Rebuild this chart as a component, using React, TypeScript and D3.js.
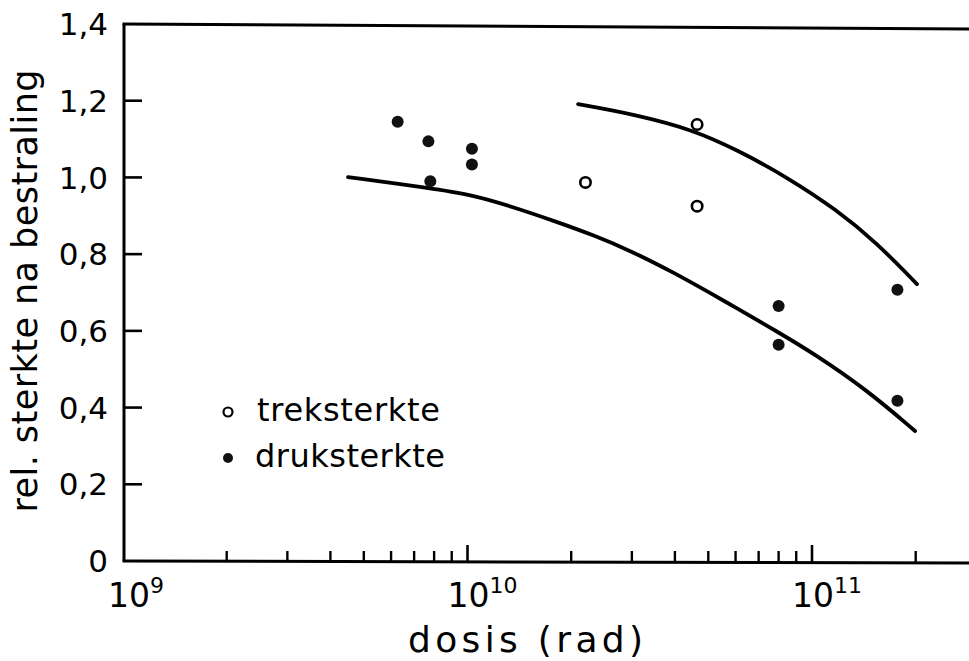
import React from "react";
import * as d3 from "d3";

const W = 969;
const H = 661;

// tick values
const yTicks = [0, 0.2, 0.4, 0.6, 0.8, 1.0, 1.2, 1.4];
const yTickLabels = ["0", "0,2", "0,4", "0,6", "0,8", "1,0", "1,2", "1,4"];
const xMajor = [1e9, 1e10, 1e11];
const xMajorExp = ["9", "10", "11"];
const xMinor = [2e9, 3e9, 4e9, 5e9, 6e9, 7e9, 8e9, 9e9, 2e10, 3e10, 4e10, 5e10, 6e10, 7e10, 8e10, 9e10, 2e11];

// data: treksterkte (open), druksterkte (filled)
const trekDose = [2.2e10, 4.64e10, 4.64e10];
const trekVal = [0.987, 1.138, 0.925];
const drukDose = [6.27e9, 7.7e9, 7.8e9, 1.03e10, 1.03e10, 8.0e10, 8.0e10, 1.77e11, 1.77e11];
const drukVal = [1.145, 1.094, 0.99, 1.075, 1.034, 0.665, 0.564, 0.707, 0.418];

// fitted curves
const lowerDose = [4.5e9, 7.78e9, 1.037e10, 1.356e10, 1.819e10, 2.314e10, 3.022e10, 3.95e10, 5.515e10, 8.07e10, 1.007e11, 1.444e11, 1.991e11];
const lowerVal = [1.001, 0.972, 0.954, 0.923, 0.884, 0.85, 0.806, 0.753, 0.68, 0.594, 0.542, 0.446, 0.339];
const upperDose = [2.094e10, 3.105e10, 4.514e10, 6.057e10, 8.46e10, 1.182e11, 1.544e11, 2.017e11];
const upperVal = [1.191, 1.163, 1.124, 1.072, 1.001, 0.915, 0.829, 0.722];

const FONT = "'DejaVu Sans', sans-serif";

export default function App() {
  const x = d3.scaleLog().domain([1e9, 1e11]).range([123, 812]);
  const y = d3.scaleLinear().domain([0, 1.4]).range([561, 24]);
  const x0 = 124;
  const xEnd = W;

  const line = d3
    .line<[number, number]>()
    .x((d) => x(d[0]))
    .y((d) => y(d[1]))
    .curve(d3.curveBasis);

  const lower = lowerDose.map((d, i) => [d, lowerVal[i]] as [number, number]);
  const upper = upperDose.map((d, i) => [d, upperVal[i]] as [number, number]);

  return (
    <svg
      width={W}
      height={H}
      style={{ position: "absolute", left: 0, top: 0, background: "#fff" }}
      fontFamily={FONT}
    >
      <rect x={0} y={0} width={W} height={H} fill="#fff" />
      {/* axes frame */}
      <line x1={x0} y1={y(1.4)} x2={x0} y2={y(0)} stroke="#000" strokeWidth={3} />
      <line x1={x0 - 1.5} y1={y(0)} x2={xEnd} y2={y(0) + 2} stroke="#000" strokeWidth={3} />
      <line x1={x0 - 1.5} y1={y(1.4)} x2={xEnd} y2={y(1.4) + 5} stroke="#000" strokeWidth={3} />

      {/* y ticks */}
      {yTicks.map((t, i) => (
        <g key={"yt" + i}>
          {t > 0 && t < 1.4 && (
            <line x1={x0} x2={x0 + 18} y1={y(t)} y2={y(t)} stroke="#000" strokeWidth={2.6} />
          )}
          <text x={108} y={y(t)} dy="0.36em" textAnchor="end" fontSize={31} fill="#000">
            {yTickLabels[i]}
          </text>
        </g>
      ))}

      {/* x minor ticks */}
      {xMinor.map((t, i) => (
        <line key={"xm" + i} x1={x(t)} x2={x(t)} y1={y(0) + 1} y2={y(0) - 10} stroke="#000" strokeWidth={2.4} />
      ))}
      {xMajor.map((t, i) => (
        <g key={"xM" + i}>
          {i > 0 && (
            <line x1={x(t)} x2={x(t)} y1={y(0) + 1} y2={y(0) - 16} stroke="#000" strokeWidth={2.6} />
          )}
          <text x={x(t) - (i === 0 ? 15 : 20)} y={607} textAnchor="start" fontSize={33} fill="#000">
            <tspan>10</tspan>
            <tspan dy={-14} fontSize={22}>
              {xMajorExp[i]}
            </tspan>
          </text>
        </g>
      ))}

      {/* axis titles */}
      <text x={408} y={652} textAnchor="start" fontSize={36} fill="#000" textLength={235} lengthAdjust="spacing">
        dosis (rad)
      </text>
      <text
        transform={`translate(37, 291) rotate(-90)`}
        textAnchor="middle"
        fontSize={35}
        fill="#000"
        textLength={443}
        lengthAdjust="spacing"
      >
        rel. sterkte na bestraling
      </text>

      {/* curves */}
      <path d={line(lower) || ""} fill="none" stroke="#000" strokeWidth={3.8} strokeLinecap="round" />
      <path d={line(upper) || ""} fill="none" stroke="#000" strokeWidth={3.8} strokeLinecap="round" />

      {/* points */}
      {drukDose.map((d, i) => (
        <circle key={"dp" + i} cx={x(d)} cy={y(drukVal[i])} r={6} fill="#111" />
      ))}
      {trekDose.map((d, i) => (
        <circle key={"tp" + i} cx={x(d)} cy={y(trekVal[i])} r={5.2} fill="#fff" stroke="#000" strokeWidth={2.6} />
      ))}

      {/* legend */}
      <circle cx={228} cy={412} r={4.5} fill="#fff" stroke="#000" strokeWidth={2.2} />
      <text x={257} y={421} fontSize={32} fill="#000" textLength={183} lengthAdjust="spacing">
        treksterkte
      </text>
      <circle cx={228} cy={458} r={5} fill="#111" />
      <text x={255} y={467} fontSize={32} fill="#000" textLength={190} lengthAdjust="spacing">
        druksterkte
      </text>
    </svg>
  );
}
